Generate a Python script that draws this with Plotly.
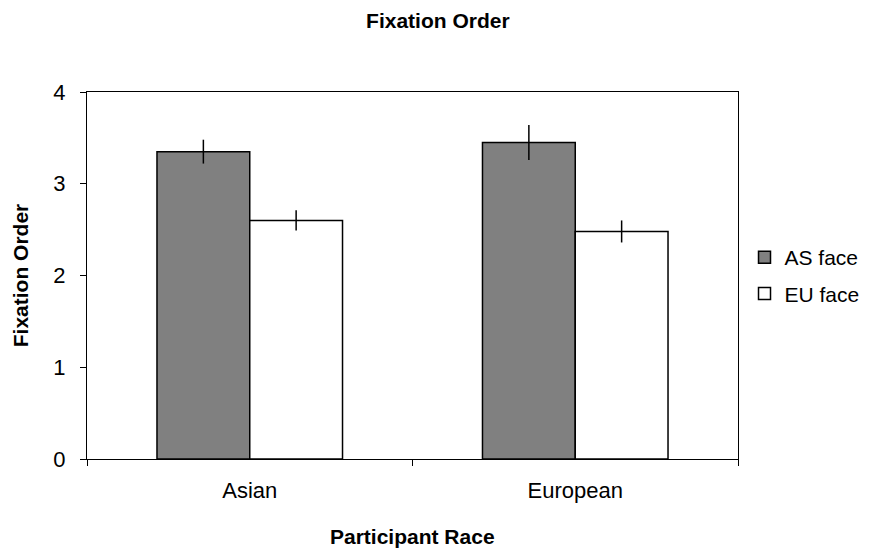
import plotly.graph_objects as go

categories = ["Asian", "European"]
as_face = [3.35, 3.45]
as_err = [0.13, 0.19]
eu_face = [2.60, 2.48]
eu_err = [0.11, 0.12]

fig = go.Figure()
fig.add_trace(go.Bar(
    name="AS face", x=categories, y=as_face, legendgroup="a",
    marker=dict(color="#808080", line=dict(color="black", width=1.5)),
    error_y=dict(type="data", array=as_err, width=0, thickness=1.5, color="black"),
))
fig.add_trace(go.Bar(
    name="EU face", x=categories, y=eu_face, legendgroup="b",
    marker=dict(color="white", line=dict(color="black", width=1.5)),
    error_y=dict(type="data", array=eu_err, width=0, thickness=1.5, color="black"),
))

font = "Arial, Liberation Sans, sans-serif"
fig.update_layout(
    width=881, height=554,
    margin=dict(l=87, r=143, t=92, b=95),
    paper_bgcolor="white", plot_bgcolor="white",
    barmode="group", bargap=0.43, bargroupgap=0,
    font=dict(family=font, size=22, color="black"),
    title=dict(text="<b>Fixation Order</b>", x=0.497, xanchor="center", y=0.962, yanchor="middle",
               font=dict(size=21, family=font)),
    legend=dict(x=1.01, xanchor="left", y=0.50, yanchor="middle",
                font=dict(size=21), traceorder="grouped", tracegroupgap=6),
    showlegend=True,
)
fig.update_yaxes(range=[0, 4], dtick=1, ticks="outside", ticklen=6, tickcolor="black",
                 showline=True, linecolor="black", linewidth=1, mirror=True,
                 showgrid=False, zeroline=False, ticklabelstandoff=10,
                 title=dict(text="<b>Fixation Order</b>", font=dict(size=21), standoff=18))
fig.update_xaxes(ticks="outside", ticklen=6, tickcolor="black", tickson="boundaries",
                 showline=True, linecolor="black", linewidth=1, mirror=True,
                 showgrid=False, ticklabelstandoff=12)
fig.add_annotation(text="<b>Participant Race</b>", xref="paper", yref="paper",
                   x=0.5, y=-0.21, xanchor="center", yanchor="middle",
                   showarrow=False, font=dict(size=21, family=font))

fig.write_html("out.html", config={"displayModeBar": False},
               post_script="document.body.style.margin='0';")
